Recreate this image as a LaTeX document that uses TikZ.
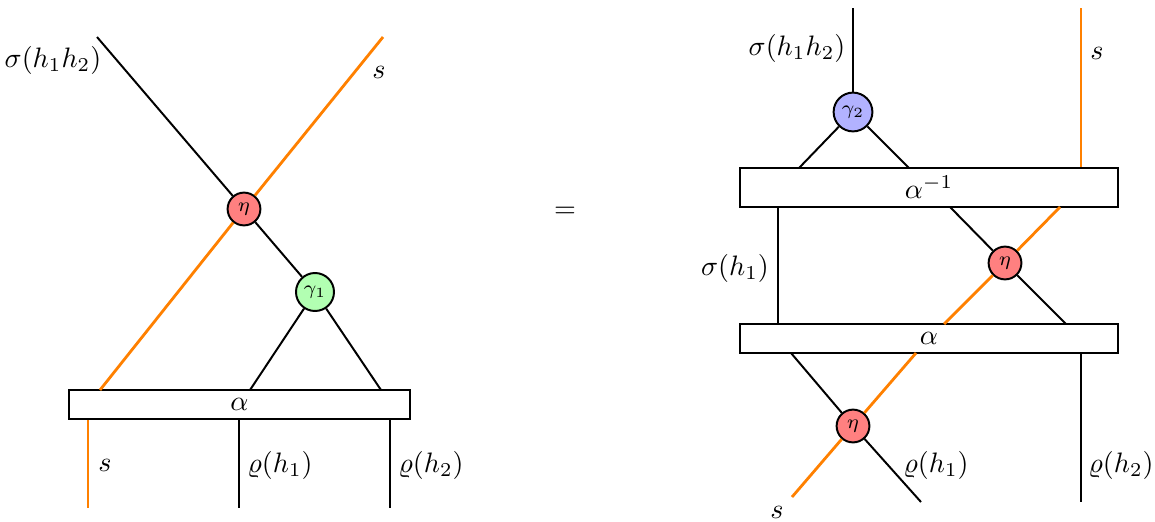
\documentclass[tikz,border=0pt]{standalone}
\begin{document}
\begin{tikzpicture}[
    wire/.style={line width=0.7pt},
    sect/.style={line width=1pt, orange},
    vert/.style={circle, draw, line width=0.7pt, inner sep=1pt, font=\scriptsize},
    bar/.style={draw, line width=0.7pt, fill=white, inner sep=0pt}]
    \useasboundingbox (0,0) rectangle (14.4375,6.5125);
    % left hand side
    \node[bar, minimum width=4.2625cm, minimum height=0.3625cm] (alphaL) at (2.994,1.456) {$\alpha$};
    \node[vert, fill=red!50, minimum size=0.41cm] (etaL) at (3.05,3.9) {$\eta$};
    \node[vert, fill=green!30, minimum size=0.475cm] (gammaA) at (3.9375,2.8625) {$\gamma_1$};
    \coordinate (sigTopL) at (1.2125,6.05);
    \coordinate (sTopL) at (4.7875,6.05);
    \coordinate (sInL) at (1.25,1.6375);
    \coordinate (gAleft) at (3.125,1.6375);
    \coordinate (gAright) at (4.7625,1.6375);
    \coordinate (sBotL) at (1.1,0.1625);
    \coordinate (rhoAL) at (2.9875,0.1625);
    \coordinate (rhoBL) at (4.875,0.1625);
    \draw[wire] (sigTopL) -- (etaL) -- (gammaA);
    \draw[sect] (sTopL) -- (etaL) -- (sInL);
    \draw[wire] (gAleft) -- (gammaA) -- (gAright);
    \draw[sect] (sBotL |- alphaL.south) -- (sBotL);
    \draw[wire] (rhoAL |- alphaL.south) -- (rhoAL);
    \draw[wire] (rhoBL |- alphaL.south) -- (rhoBL);
    \node (lsigL) at (0.6625,5.7625) {$\sigma(h_1h_2)$};
    \node (lsTopL) at (4.7375,5.6125) {$s$};
    \node (lsBotL) at (1.3125,0.7) {$s$};
    \node (lrhoAL) at (3.5,0.7) {$\varrho(h_1)$};
    \node (lrhoBL) at (5.3875,0.7) {$\varrho(h_2)$};

    \node (eq) at (7.0625,3.8625) {$=$};

    % right hand side
    \node[bar, minimum width=4.725cm, minimum height=0.4875cm] (alphaInv) at (11.6125,4.16875) {$\alpha^{-1}$};
    \node[bar, minimum width=4.725cm, minimum height=0.3625cm] (alphaR) at (11.6125,2.28125) {$\alpha$};
    \node[vert, fill=blue!30, minimum size=0.485cm] (gammaB) at (10.6625,5.1125) {$\gamma_2$};
    \node[vert, fill=red!50, minimum size=0.41cm] (etaA) at (12.5625,3.225) {$\eta$};
    \node[vert, fill=red!50, minimum size=0.41cm] (etaB) at (10.6625,1.1875) {$\eta$};
    \coordinate (sigTopR) at (10.6625,6.4125);
    \coordinate (sTopR) at (13.5125,6.4125);
    \coordinate (gBleft) at (9.9875,4.4125);
    \coordinate (gBright) at (11.3625,4.4125);
    \coordinate (sigOne) at (9.725,3.925);
    \coordinate (eAin) at (11.875,3.925);
    \coordinate (eAout) at (13.325,2.4625);
    \coordinate (sAin) at (13.25,3.925);
    \coordinate (sAout) at (11.8,2.4625);
    \coordinate (eBin) at (9.8875,2.1);
    \coordinate (rhoAR) at (11.5125,0.2375);
    \coordinate (sBin) at (11.45,2.1);
    \coordinate (sBotR) at (9.9,0.3);
    \coordinate (rhoBR) at (13.5125,0.2375);
    \draw[wire] (sigTopR) -- (gammaB);
    \draw[wire] (gBleft) -- (gammaB) -- (gBright);
    \draw[sect] (sTopR) -- (sTopR |- alphaInv.north);
    \draw[wire] (sigOne) -- (sigOne |- alphaR.north);
    \draw[wire] (eAin) -- (etaA) -- (eAout);
    \draw[sect] (sAin) -- (etaA) -- (sAout);
    \draw[wire] (eBin) -- (etaB) -- (rhoAR);
    \draw[sect] (sBin) -- (etaB) -- (sBotR);
    \draw[wire] (rhoBR |- alphaR.south) -- (rhoBR);
    \node (lsigR) at (9.9625,5.9125) {$\sigma(h_1h_2)$};
    \node (lsTopR) at (13.7125,5.85) {$s$};
    \node (lsigOne) at (9.1875,3.1625) {$\sigma(h_1)$};
    \node (lrhoAR) at (11.7,0.7) {$\varrho(h_1)$};
    \node (lrhoBR) at (14.0125,0.7) {$\varrho(h_2)$};
    \node (lsBotR) at (9.7125,0.1125) {$s$};
\end{tikzpicture}
\end{document}
